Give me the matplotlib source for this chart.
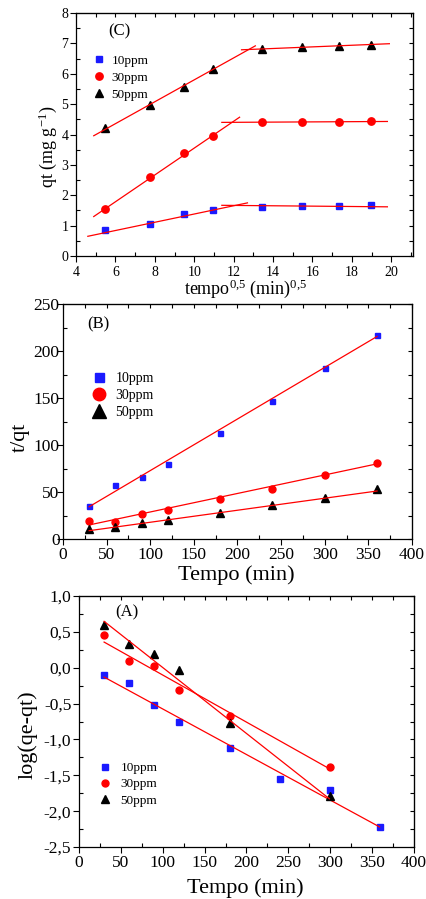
import numpy as np
import matplotlib
matplotlib.use("Agg")
import matplotlib.pyplot as plt
from matplotlib.ticker import MultipleLocator, NullFormatter, FuncFormatter

plt.rcParams['font.family'] = ['Liberation Serif', 'DejaVu Serif']
plt.rcParams['mathtext.fontset'] = 'custom'
plt.rcParams['mathtext.rm'] = 'Liberation Serif'
plt.rcParams['mathtext.it'] = 'Liberation Serif'

labels = ['10ppm', '30ppm', '50ppm']

# --- (C) difusao intraparticula ---
raiz_t = [5.48, 7.75, 9.49, 10.95, 13.42, 15.49, 17.32, 18.97]
qt_c = [
    [0.87, 1.06, 1.37, 1.50, 1.60, 1.65, 1.65, 1.67],
    [1.55, 2.60, 3.38, 3.96, 4.40, 4.41, 4.42, 4.44],
    [4.22, 4.97, 5.56, 6.17, 6.82, 6.87, 6.92, 6.94],
]
# retas ajustadas (x inicial, x final) e (y inicial, y final), duas por serie
retas_c = [
    [([4.6, 12.7], [0.65, 1.75]), ([11.4, 19.8], [1.67, 1.62])],
    [([4.9, 12.3], [1.30, 4.57]), ([11.4, 19.8], [4.40, 4.43])],
    [([4.9, 13.1], [3.96, 6.92]), ([12.4, 19.9], [6.79, 6.99])],
]

# --- (B) pseudo-segunda ordem ---
tempo_b = [30, 60, 90, 120, 180, 240, 300, 360]
tq_b = [
    [35, 57, 66, 80, 113, 147, 182, 217],
    [19.5, 18.5, 26.6, 30.5, 42.6, 53.3, 67.8, 80.6],
    [10.3, 13.0, 17.4, 20.2, 27.3, 36.2, 43.7, 52.9],
]
retas_b = [
    ([30, 360], [34.4, 215.5]),
    ([30, 360], [15.0, 80.0]),
    ([30, 360], [8.9, 51.1]),
]

# --- (A) pseudo-primeira ordem ---
tempo_a = [
    [30, 60, 90, 120, 180, 240, 300, 360],
    [30, 60, 90, 120, 180, 300],
    [30, 60, 90, 120, 180, 300],
]
log_a = [
    [-0.097, -0.209, -0.52, -0.762, -1.125, -1.557, -1.70, -2.226],
    [0.461, 0.093, 0.019, -0.306, -0.678, -1.385],
    [0.60, 0.335, 0.196, -0.027, -0.771, -1.79],
]
retas_a = [
    ([30, 359], [-0.13, -2.22]),
    ([30, 299], [0.358, -1.408]),
    ([30, 299], [0.647, -1.827]),
]

cores = ['#1a1aff', '#ff0000', 'black']
marcadores = ['s', 'o', '^']


def estilo_eixos(ax, xmaj, xmin, ymaj, ymin, tam=12.5, pad=1.5, ypad=1.5):
    ax.xaxis.set_major_locator(MultipleLocator(xmaj))
    ax.xaxis.set_minor_locator(MultipleLocator(xmin))
    ax.yaxis.set_major_locator(MultipleLocator(ymaj))
    ax.yaxis.set_minor_locator(MultipleLocator(ymin))
    ax.tick_params(which='major', direction='out', length=4, width=0.8,
                   labelsize=tam, top=False, right=False)
    ax.tick_params(axis='x', which='major', pad=pad)
    ax.tick_params(axis='y', which='major', pad=ypad)
    ax.tick_params(which='minor', direction='in', length=3, width=0.8,
                   top=False, right=False)
    topo = ax.secondary_xaxis('top')
    topo.xaxis.set_major_locator(MultipleLocator(xmaj))
    topo.xaxis.set_minor_locator(MultipleLocator(xmin))
    topo.xaxis.set_major_formatter(NullFormatter())
    topo.tick_params(which='both', direction='in', length=3, width=0.8)
    dir_ = ax.secondary_yaxis('right')
    dir_.yaxis.set_major_locator(MultipleLocator(ymaj))
    dir_.yaxis.set_minor_locator(MultipleLocator(ymin))
    dir_.yaxis.set_major_formatter(NullFormatter())
    dir_.tick_params(which='both', direction='in', length=3, width=0.8)
    for s in ax.spines.values():
        s.set_linewidth(0.9)


def rotulos(ax, xlab, ylab, tam, xpos, ypos):
    ax.set_xlabel(xlab, fontsize=tam[0], va='center', ha='center')
    ax.set_ylabel(ylab, fontsize=tam[1], va='center', ha='center')
    ax.xaxis.set_label_coords(*xpos)
    ax.yaxis.set_label_coords(*ypos)


fig = plt.figure(figsize=(4.26, 8.99), dpi=100)

# painel C
axc = fig.add_axes([0.1784, 0.7152, 0.7911, 0.2703])
tam_c = [4.3, 5.3, 6.0]
for i in range(3):
    axc.plot(raiz_t, qt_c[i], linestyle='none', marker=marcadores[i],
             color=cores[i], markersize=tam_c[i], label=labels[i])
    for xs, ys in retas_c[i]:
        axc.plot(xs, ys, color='red', linewidth=0.9)
axc.set_xlim(4, 21.1)
axc.set_ylim(0, 8)
estilo_eixos(axc, 2, 1, 1, 0.5, tam=10, pad=3)
rotulos(axc, r'tempo$^{0{,}5}$ (min)$^{0{,}5}$', r'qt (mg g$^{-1}$)',
        (13, 13), (0.504, -0.134), (-0.083, 0.449))
axc.text(0.13, 0.926, '(C)', transform=axc.transAxes, fontsize=12,
         ha='center', va='center')
axc.legend(loc='upper left', bbox_to_anchor=(0.029, 0.85), frameon=False,
           fontsize=9.5, handletextpad=0.35, labelspacing=0.35,
           handlelength=1.2, borderaxespad=0)

# painel B
axb = fig.add_axes([0.1479, 0.4004, 0.8191, 0.2614])
tam_b = [3.6, 5.0, 5.5]
for i in range(3):
    axb.plot(tempo_b, tq_b[i], linestyle='none', marker=marcadores[i],
             color=cores[i], markersize=tam_b[i], label=labels[i])
    xs, ys = retas_b[i]
    axb.plot(xs, ys, color='red', linewidth=0.9)
axb.set_xlim(0, 400)
axb.set_ylim(0, 250)
estilo_eixos(axb, 50, 25, 50, 25, ypad=-1.5)
rotulos(axb, 'Tempo (min)', 't/qt', (16, 16), (0.496, -0.153), (-0.123, 0.434))
axb.text(0.10, 0.915, '(B)', transform=axb.transAxes, fontsize=12,
         ha='center', va='center')
axb.legend(loc='upper left', bbox_to_anchor=(0.063, 0.735), frameon=False,
           fontsize=10, handletextpad=0.6, labelspacing=0.3,
           handlelength=1.2, borderaxespad=0, markerscale=1.8)

# painel A
axa = fig.add_axes([0.1854, 0.0578, 0.7864, 0.2792])
tam_a = [3.8, 5.0, 5.5]
for i in range(3):
    axa.plot(tempo_a[i], log_a[i], linestyle='none', marker=marcadores[i],
             color=cores[i], markersize=tam_a[i], label=labels[i])
    xs, ys = retas_a[i]
    axa.plot(xs, ys, color='red', linewidth=0.9)
axa.set_xlim(0, 400)
axa.set_ylim(-2.5, 1.0)
estilo_eixos(axa, 50, 25, 0.5, 0.25)
axa.yaxis.set_major_formatter(FuncFormatter(lambda v, p: f'{v:.1f}'.replace('.', ',')))
rotulos(axa, 'Tempo (min)', 'log(qe-qt)', (16, 16), (0.496, -0.163), (-0.152, 0.446))
axa.text(0.143, 0.936, '(A)', transform=axa.transAxes, fontsize=12,
         ha='center', va='center')
axa.legend(loc='upper left', bbox_to_anchor=(0.038, 0.36), frameon=False,
           fontsize=9.5, handletextpad=0.6, labelspacing=0.3,
           handlelength=1.2, borderaxespad=0)

fig.savefig('out.png', dpi=100)
